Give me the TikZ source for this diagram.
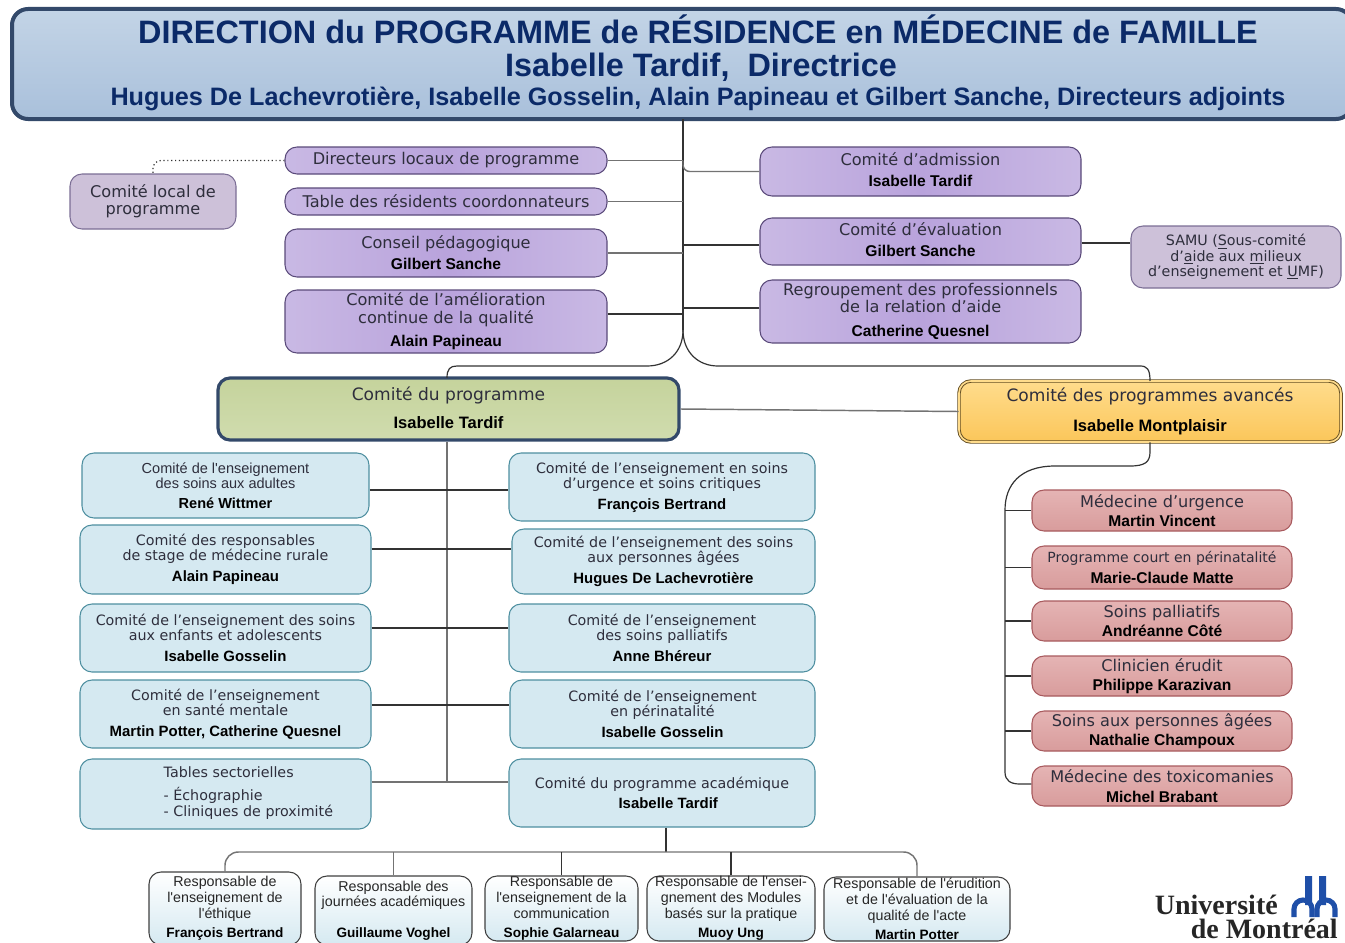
\documentclass[tikz,border=0pt]{standalone}
\usepackage{fontspec}
\setmainfont{DejaVu Sans}
\newfontfamily\arialfont{Liberation Sans}
\newfontfamily\timesfont{Liberation Serif}
\definecolor{Navy}{HTML}{0B2A68}
\definecolor{Frame}{HTML}{33496A}
\definecolor{Ink}{HTML}{2E2E3C}
\definecolor{Edge}{HTML}{5A4A7A}
\definecolor{TopA}{HTML}{C3D4E6}
\definecolor{TopB}{HTML}{A9C0DB}
\definecolor{PurpleA}{HTML}{C9B9E4}
\definecolor{PurpleB}{HTML}{B9A3DC}
\definecolor{LocalFill}{HTML}{CDC1D9}
\definecolor{GreenA}{HTML}{C5D39C}
\definecolor{GreenB}{HTML}{D0DCAE}
\definecolor{GoldA}{HTML}{FFDC8C}
\definecolor{GoldB}{HTML}{FBC65A}
\definecolor{BlueFill}{HTML}{D5E9F1}
\definecolor{BlueEdge}{HTML}{4E8FA0}
\definecolor{RedA}{HTML}{E5B4B4}
\definecolor{RedB}{HTML}{D89C9C}
\definecolor{RedEdge}{HTML}{A85A5E}
\definecolor{UdeM}{HTML}{1F4FA8}
\newcommand{\namesize}{\fontsize{11.7}{12}\selectfont}
\newcommand{\who}[1]{{\arialfont\bfseries\color{black}\namesize #1}}
\tikzset{
  size/.style 2 args={minimum width=#1*0.75pt, minimum height=#2*0.75pt},
  box/.style={draw, rounded corners=9pt, inner sep=0pt, align=center, text=Ink},
  body/.style={font=\fontsize{12.1}{12.8}\selectfont},
  small/.style={font=\fontsize{10.7}{11.6}\selectfont\def\namesize{\fontsize{11.2}{12}\selectfont}},
  large/.style={font=\fontsize{12.8}{13}\selectfont\def\namesize{\fontsize{12.4}{13}\selectfont}},
  purple/.style={box, body, draw=Edge, line width=0.8pt, left color=PurpleA, right color=PurpleA, middle color=PurpleB},
  localbox/.style={box, body, draw=Edge!80, line width=0.8pt, fill=LocalFill},
  blue/.style={box, small, draw=BlueEdge, line width=0.8pt, fill=BlueFill},
  red/.style={box, font=\fontsize{12.1}{14.6}\selectfont, draw=RedEdge, line width=0.8pt, top color=RedA, bottom color=RedB},
  resp/.style={box, font=\arialfont\fontsize{10.7}{11.8}\selectfont\def\namesize{\fontsize{10.2}{11}\selectfont}, draw=black!75, line width=0.8pt, top color=white, bottom color=BlueFill, text=black!85},
  udem/.style={inner sep=0pt, anchor=base east, font=\timesfont\bfseries\fontsize{21}{23}\selectfont, text=black!85},
  link/.style={draw=black!80, line width=0.9pt},
  grey link/.style={draw=black!55, line width=1.1pt},
}
\begin{document}
\begin{tikzpicture}[x=0.75pt, y=-0.75pt]
  \clip (0,0) rectangle (1345,942);

  % direction
  \node (direction) at (682,64) [box, size={1340}{110}, draw=Frame, line width=3pt, rounded corners=12pt, top color=TopA, bottom color=TopB] {};
  \node (title) at (698,29) [font=\arialfont\bfseries\fontsize{24.3}{26}\selectfont, text=Navy] {DIRECTION du PROGRAMME de RÉSIDENCE en MÉDECINE de FAMILLE};
  \node (director) at (701,67) [font=\arialfont\bfseries\fontsize{24.3}{26}\selectfont, text=Navy] {Isabelle Tardif,\ \ Directrice};
  \node (adjoints) at (698,99) [font=\arialfont\bfseries\fontsize{18.9}{20}\selectfont, text=Navy] {Hugues De Lachevrotière, Isabelle Gosselin, Alain Papineau et Gilbert Sanche, Directeurs adjoints};

  % comites de la direction
  \node (locaux) at (446,160.5) [purple, size={322}{27}] {Directeurs locaux de programme};
  \node (residents) at (446,201.5) [purple, size={322}{27}] {Table des résidents coordonnateurs};
  \node (conseil) at (446,253) [purple, size={322}{48}] {Conseil pédagogique\\[3pt]\who{Gilbert Sanche}};
  \node (qualite) at (446,321.5) [purple, size={322}{63}] {Comité de l’amélioration\\continue de la qualité\\[5pt]\who{Alain Papineau}};
  \node (local) at (153,201.5) [localbox, size={166}{55}] {Comité local de\\programme};
  \node (admission) at (920.5,171.5) [purple, size={321}{49}, text depth=2.5pt] {Comité d’admission\\[3pt]\who{Isabelle Tardif}};
  \node (evaluation) at (920.5,241.5) [purple, size={321}{47}, text depth=2.5pt] {Comité d’évaluation\\[3pt]\who{Gilbert Sanche}};
  \node (relation) at (920.5,311.5) [purple, size={321}{63}] {Regroupement des professionnels\\de la relation d’aide\\[5pt]\who{Catherine Quesnel}};
  \node (samu) at (1236,257) [localbox, small, size={210}{62}] {SAMU (\underline{S}ous-comité\\d’\underline{a}ide aux \underline{m}ilieux\\d’enseignement et \underline{U}MF)};

  % comites principaux
  \node (programme) at (448.5,409) [box, large, size={461}{62}, draw=Frame, line width=2.4pt, top color=GreenA, bottom color=GreenB, text depth=2pt] {Comité du programme\\[8pt]\who{Isabelle Tardif}};
  \node (avances) at (1150,411.5) [box, large, size={382}{61}, double=GoldA, double distance=1.2pt, draw=black!60!GoldB, line width=0.7pt, top color=GoldA, bottom color=GoldB] {Comité des programmes avancés\\[9pt]\who{Isabelle Montplaisir}};

  % colonne gauche
  \node (adultes) at (225.5,485.5) [blue, size={287}{65}, font=\arialfont\fontsize{10.9}{11.2}\selectfont\def\namesize{\fontsize{10.9}{11.2}\selectfont}] {Comité de l'enseignement\\des soins aux adultes\\[4pt]\who{René Wittmer}};
  \node (rurale) at (225.5,559.5) [blue, size={291}{69}] {Comité des responsables\\de stage de médecine rurale\\[4pt]\who{Alain Papineau}};
  \node (enfants) at (225.5,638) [blue, size={291}{68}] {Comité de l’enseignement des soins\\aux enfants et adolescents\\[4pt]\who{Isabelle Gosselin}};
  \node (mentale) at (225.5,714) [blue, size={291}{68}] {Comité de l’enseignement\\en santé mentale\\[4pt]\who{Martin Potter, Catherine Quesnel}};
  \node (tables) at (225.5,794) [blue, size={291}{70}] {};
  \node (tablestxt) at (159,793) [anchor=west, align=left, small, text=Ink] {Tables sectorielles\\[6pt]- Échographie\\- Cliniques de proximité};

  % colonne droite
  \node (urgence) at (662,487) [blue, size={306}{68}] {Comité de l’enseignement en soins\\d’urgence et soins critiques\\[4pt]\who{François Bertrand}};
  \node (agees) at (663.5,561.5) [blue, size={303}{65}] {Comité de l’enseignement des soins\\aux personnes âgées\\[4pt]\who{Hugues De Lachevrotière}};
  \node (palliatifs) at (662,638) [blue, size={306}{68}] {Comité de l’enseignement\\des soins palliatifs\\[4pt]\who{Anne Bhéreur}};
  \node (perinat) at (662.5,714) [blue, size={305}{68}] {Comité de l’enseignement\\en périnatalité\\[4pt]\who{Isabelle Gosselin}};
  \node (academique) at (662,793) [blue, size={306}{68}] {Comité du programme académique\\[3pt]\who{\ \ \ Isabelle Tardif}};

  % programmes avances
  \node (medurg) at (1162,510.5) [red, size={260}{41}] {Médecine d’urgence\\\who{Martin Vincent}};
  \node (court) at (1162,567.5) [red, size={260}{43}, font=\fontsize{10.5}{15.5}\selectfont] {Programme court en périnatalité\\\who{Marie-Claude Matte}};
  \node (soins) at (1162,621) [red, size={260}{40}] {Soins palliatifs\\\who{Andréanne Côté}};
  \node (erudit) at (1162,676) [red, size={260}{40}] {Clinicien érudit\\\who{Philippe Karazivan}};
  \node (personnes) at (1162,731) [red, size={260}{40}] {Soins aux personnes âgées\\\who{Nathalie Champoux}};
  \node (toxico) at (1162,786) [red, size={260}{40}] {Médecine des toxicomanies\\\who{Michel Brabant}};

  % responsables
  \node (ethique) at (225,908.5) [resp, size={152}{73}] {Responsable de\\l'enseignement de\\l'éthique\\[3pt]\who{François Bertrand}};
  \node (journees) at (393.5,910.5) [resp, size={157}{69}] {Responsable des\\journées académiques\\[11pt]\who{Guillaume Voghel}};
  \node (commun) at (561.5,908.5) [resp, size={153}{65}] {Responsable de\\l'enseignement de la\\communication\\[3pt]\who{Sophie Galarneau}};
  \node (modules) at (731,908.5) [resp, size={168}{65}] {Responsable de l'ensei-\\gnement des Modules\\basés sur la pratique\\[3pt]\who{Muoy Ung}};
  \node (erudition) at (917,909) [resp, size={186}{64}] {Responsable de l'érudition\\et de l'évaluation de la\\qualité de l'acte\\[3pt]\who{Martin Potter}};

  % jonctions
  \coordinate (spinetop) at (683,119);
  \coordinate (spinebot) at (683,330);
  \coordinate (progtop) at (447,378);
  \coordinate (avtop) at (1150,381);
  \coordinate (progspine) at (447,782);
  \coordinate (avspine) at (1005,510);
  \coordinate (acadrail) at (666,852);

  \draw[link] (spinetop) -- (spinebot);
  \foreach \name in {locaux,residents,conseil}
    \draw[grey link] (\name.east) -- (\name.east -| spinetop);
  \draw[link] (qualite.east |- 0,314) -- (spinetop |- 0,314);
  \draw[grey link, rounded corners=5pt] (locaux.east -| spinetop) -- (spinetop |- admission.west) -- (admission.west);
  \draw[link] (evaluation.west |- 0,245) -- (spinetop |- 0,245);
  \draw[link] (relation.west |- 0,308) -- (spinetop |- 0,308);
  \draw[link] (evaluation.east |- 0,243) -- (samu.west |- 0,243);
  \draw[link, dotted, rounded corners=6pt] (locaux.west) -- (locaux.west -| local.north) -- (local.north);
  \draw[link] (spinebot) .. controls (683,352) and (668,366) .. (647,366) -- (457,366) .. controls (450,366) and (447,369) .. (progtop);
  \draw[link] (spinebot) .. controls (683,352) and (698,366) .. (718,366) -- (1140,366) .. controls (1147,366) and (1150,369) .. (avtop);
  \draw[grey link] (programme.east) -- (avances.west);

  \draw[grey link] (programme.south -| progspine) -- (progspine);
  \foreach \lname/\rname/\y in {adultes/urgence/490,rurale/agees/549,enfants/palliatifs/628,mentale/perinat/705}
    \draw[link] (\lname.east |- 0,\y) -- (\rname.west |- 0,\y);
  \draw[grey link] (tables.east |- progspine) -- (academique.west |- progspine);

  \draw[link] (avances.south) -- (1150,452) .. controls (1150,462) and (1145,466) .. (1130,466) -- (1055,466) .. controls (1020,466) and (1005,485) .. (avspine) -- (1005,772) .. controls (1005,781) and (1011,784) .. (1020,784) -- (toxico.west |- 0,784);
  \foreach \name in {medurg,court,soins,erudit,personnes}
    \draw[link] (\name.west) -- (\name.west -| avspine);

  \draw[link] (academique.south -| acadrail) -- (acadrail);
  \draw[grey link, rounded corners=10pt] (ethique.north) -- (ethique.north |- acadrail) -- (erudition.north |- acadrail) -- (erudition.north);
  \draw[grey link] (journees.north) -- (journees.north |- acadrail);
  \foreach \name in {commun,modules}
    \draw[link] (\name.north) -- (\name.north |- acadrail);

  % universite
  \node (univ) at (1278,914) [udem] {Université};
  \node (montreal) at (1338,938) [udem] {de Montréal};
  \fill[UdeM] (1305,876) rectangle (1312,905) (1319,876) rectangle (1326,905);
  \draw[UdeM, line width=3.8pt] (1294,917) -- (1294,909) arc[start angle=180, end angle=360, x radius=9, y radius=9] -- (1312,917);
  \draw[UdeM, line width=3.8pt] (1317,917) -- (1317,909) arc[start angle=180, end angle=360, x radius=9, y radius=9] -- (1335,917);
\end{tikzpicture}
\end{document}
